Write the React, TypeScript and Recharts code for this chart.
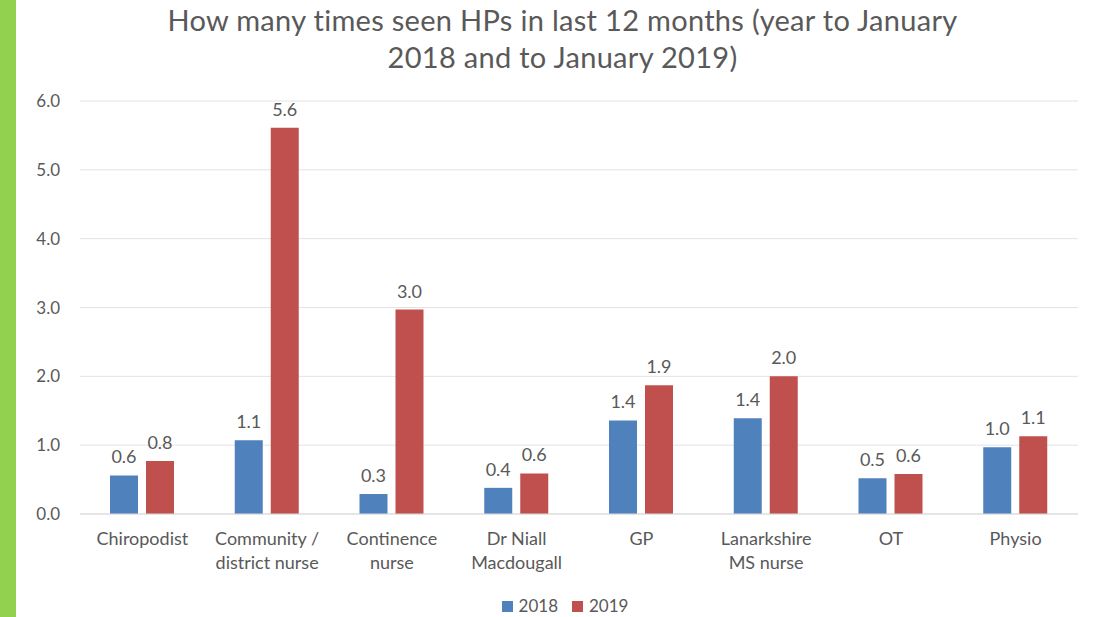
import React from 'react';
import { BarChart, Bar, XAxis, YAxis, CartesianGrid, LabelList } from 'recharts';

const categories = [
  'Chiropodist',
  'Community /\ndistrict nurse',
  'Continence\nnurse',
  'Dr Niall\nMacdougall',
  'GP',
  'Lanarkshire\nMS nurse',
  'OT',
  'Physio',
];
const values2018 = [0.56, 1.07, 0.29, 0.38, 1.36, 1.39, 0.52, 0.97];
const values2019 = [0.77, 5.61, 2.97, 0.59, 1.87, 2.0, 0.58, 1.13];
const yTicks = [0, 1, 2, 3, 4, 5, 6];

const data = categories.map((name, i) => ({ name, y2018: values2018[i], y2019: values2019[i] }));

const FONT = 'Lato, "Open Sans", sans-serif';
const TEXT = '#595959';
const BLUE = '#4F81BD';
const RED = '#C0504D';

const CategoryTick = ({ x, y, payload }: any) => {
  const lines = String(payload.value).split('\n');
  return (
    <text x={x} y={y} textAnchor="middle" fill={TEXT} fontSize={18} fontFamily={FONT}>
      {lines.map((l, i) => (
        <tspan key={i} x={x} dy={i === 0 ? 23 : 24}>{l}</tspan>
      ))}
    </text>
  );
};

const fmt = (v: any) => Number(v).toFixed(1);

export default function App() {
  return (
    <div style={{ position: 'relative', width: 1103, height: 617, background: '#fff', fontFamily: FONT, overflow: 'hidden' }}>
      <style>{`body{margin:0}`}</style>
      <div style={{ position: 'absolute', left: 0, top: 0, width: 16, height: 617, background: '#92D050' }} />
      <div style={{ position: 'absolute', left: 0, top: 1, width: 1125, textAlign: 'center', fontSize: 29, lineHeight: '37px', letterSpacing: 0.3, color: TEXT }}>
        How many times seen HPs in last 12 months (year to January<br />2018 and to January 2019)
      </div>
      <div style={{ position: 'absolute', top: 0, left: 0 }}>
        <BarChart width={1103} height={617} data={data} margin={{ top: 101, right: 25, bottom: 43, left: 20 }} barSize={28} barGap={8}>
          <CartesianGrid vertical={false} stroke="#e3e3e3" />
          <XAxis dataKey="name" height={60} axisLine={{ stroke: '#d9d9d9' }} tickLine={false} tick={<CategoryTick />} interval={0} />
          <YAxis width={60} domain={[0, 6]} ticks={yTicks} tickFormatter={fmt} axisLine={false} tickLine={false}
            tick={{ fontSize: 17, fill: TEXT, fontFamily: FONT, dx: -12 }} />
          <Bar dataKey="y2018" fill={BLUE} isAnimationActive={false}>
            <LabelList dataKey="y2018" position="top" offset={12} formatter={fmt} fill={TEXT} fontSize={18} fontFamily={FONT} />
          </Bar>
          <Bar dataKey="y2019" fill={RED} isAnimationActive={false}>
            <LabelList dataKey="y2019" position="top" offset={12} formatter={fmt} fill={TEXT} fontSize={18} fontFamily={FONT} />
          </Bar>
        </BarChart>
      </div>
      <div style={{ position: 'absolute', top: 595, left: 0, width: 1130, textAlign: 'center', fontSize: 17, color: TEXT }}>
        <span style={{ display: 'inline-block', width: 11, height: 11, background: BLUE, marginRight: 6 }} />2018
        <span style={{ display: 'inline-block', width: 11, height: 11, background: RED, marginLeft: 14, marginRight: 6 }} />2019
      </div>
    </div>
  );
}
